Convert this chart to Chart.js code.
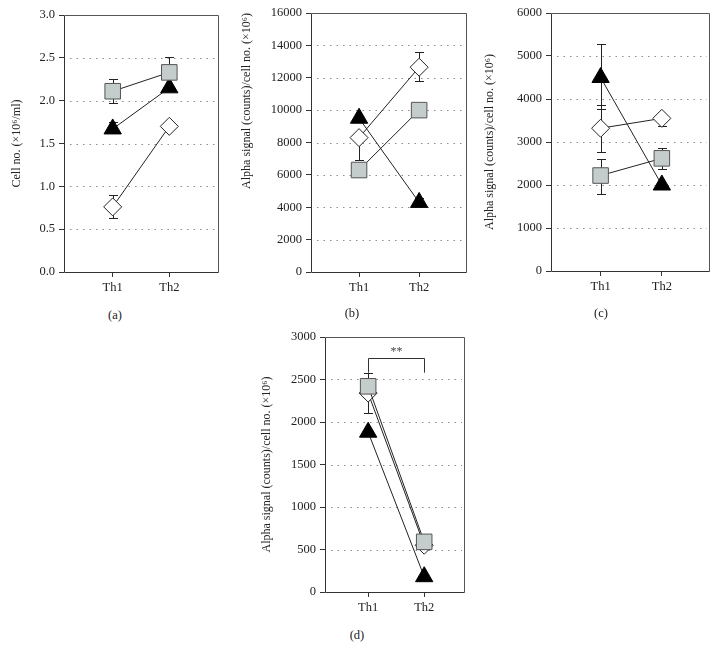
<!DOCTYPE html>
<html>
<head>
<meta charset="utf-8">
<script src="https://cdn.jsdelivr.net/npm/chart.js"></script>
<style>
  body { margin: 0; background: #fff; }
  #wrap { position: relative; width: 721px; height: 661px; background: #fff; }
  canvas { position: absolute; }
  .tag { position: absolute; font: 12.5px 'Liberation Serif', serif; color: #222; transform: translate(-50%, -50%); }
</style>
</head>
<body>
<div id="wrap">
  <canvas id="ca" style="left:0;top:0" width="230" height="300"></canvas>
  <canvas id="cb" style="left:240px;top:0" width="240" height="300"></canvas>
  <canvas id="cc" style="left:480px;top:0" width="241" height="300"></canvas>
  <canvas id="cd" style="left:240px;top:320px" width="240" height="300"></canvas>
  <div class="tag" style="left:115px;top:315px">(a)</div>
  <div class="tag" style="left:352px;top:313px">(b)</div>
  <div class="tag" style="left:601px;top:313px">(c)</div>
  <div class="tag" style="left:357px;top:635px">(d)</div>
</div>
<script>
// data
const CATEGORIES = ['Th1', 'Th2'];

// (a) cell number
const A_SQUARE = [2.11, 2.33];
const A_SQUARE_UP = [0.14, 0.18];
const A_SQUARE_DN = [0.14, 0];
const A_TRIANGLE = [1.67, 2.15];
const A_TRIANGLE_UP = [0.08, 0];
const A_DIAMOND = [0.76, 1.70];
const A_DIAMOND_UP = [0.14, 0];
const A_DIAMOND_DN = [0.13, 0];

// (b)
const B_SQUARE = [6300, 10000];
const B_TRIANGLE = [9500, 4300];
const B_TRIANGLE_UP = [0, 300];
const B_DIAMOND = [8300, 12650];
const B_DIAMOND_UP = [0, 950];
const B_DIAMOND_DN = [1400, 850];

// (c)
const C_SQUARE = [2220, 2620];
const C_SQUARE_UP = [380, 250];
const C_SQUARE_DN = [420, 240];
const C_TRIANGLE = [4500, 2000];
const C_TRIANGLE_UP = [780, 0];
const C_TRIANGLE_DN = [740, 0];
const C_DIAMOND = [3320, 3550];
const C_DIAMOND_UP = [550, 0];
const C_DIAMOND_DN = [550, 170];

// (d)
const D_SQUARE = [2420, 590];
const D_SQUARE_UP = [160, 0];
const D_TRIANGLE = [1880, 180];
const D_DIAMOND = [2340, 550];
const D_DIAMOND_DN = [230, 0];
const D_BRACKET = [2750, 2580]; // bar level, leg ends
const D_BRACKET_LABEL = '**';

const Y_TITLE_A = 'Cell no. (×10⁶/ml)';
const Y_TITLE = 'Alpha signal (counts)/cell no. (×10⁶)';

const FONT = "'Liberation Serif', 'Times New Roman', serif";
const INK = '#222';

const toPoints = vals => vals.map((v, i) => ({ x: i + 1, y: v }));

function square(vals, up, dn) {
  return {
    data: toPoints(vals), errUp: up, errDown: dn,
    pointStyle: 'rect', pointRadius: 11, pointHoverRadius: 11,
    pointBackgroundColor: '#c4cccc', pointBorderColor: '#555', pointBorderWidth: 1
  };
}
function triangle(vals, up, dn) {
  return {
    data: toPoints(vals), errUp: up, errDown: dn,
    pointStyle: 'triangle', pointRadius: 10, pointHoverRadius: 10,
    pointBackgroundColor: '#000', pointBorderColor: '#000', pointBorderWidth: 1
  };
}
function diamond(vals, up, dn) {
  return {
    data: toPoints(vals), errUp: up, errDown: dn,
    pointStyle: 'rectRot', pointRadius: 9, pointHoverRadius: 9,
    pointBackgroundColor: '#fff', pointBorderColor: '#222', pointBorderWidth: 1
  };
}

// dotted grid, plot box, error bars and the significance bracket
const framePlugin = {
  id: 'frame',
  beforeDatasetsDraw(chart) {
    const { ctx, chartArea: a, scales: { x, y } } = chart;
    ctx.save();
    ctx.lineWidth = 1;
    ctx.strokeStyle = '#8c8c8c';
    ctx.setLineDash([1.5, 5]);
    y.ticks.forEach(t => {
      if (t.value === y.min || t.value === y.max) return;
      const py = Math.round(y.getPixelForValue(t.value)) + 0.5;
      ctx.beginPath();
      ctx.moveTo(a.left + 6, py);
      ctx.lineTo(a.right - 2, py);
      ctx.stroke();
    });
    ctx.setLineDash([]);

    // box
    const l = Math.round(a.left) + 0.5, r = Math.round(a.right) + 0.5;
    const t = Math.round(a.top) + 0.5, b = Math.round(a.bottom) + 0.5;
    ctx.strokeStyle = '#555';
    ctx.beginPath();
    ctx.moveTo(l, t); ctx.lineTo(r, t); ctx.lineTo(r, b);
    ctx.stroke();
    ctx.strokeStyle = '#333';
    ctx.beginPath();
    ctx.moveTo(l, t); ctx.lineTo(l, b); ctx.lineTo(r, b);
    ctx.stroke();

    // error bars
    ctx.strokeStyle = INK;
    chart.data.datasets.forEach(ds => {
      ds.data.forEach((p, i) => {
        const px = Math.round(x.getPixelForValue(p.x)) + 0.5;
        const py0 = y.getPixelForValue(p.y);
        [[ds.errUp, 1], [ds.errDown, -1]].forEach(([err, s]) => {
          if (!err || !err[i]) return;
          const py1 = Math.round(y.getPixelForValue(p.y + s * err[i])) + 0.5;
          ctx.beginPath();
          ctx.moveTo(px, py0); ctx.lineTo(px, py1);
          ctx.moveTo(px - 4.5, py1); ctx.lineTo(px + 4.5, py1);
          ctx.stroke();
        });
      });
    });

    const br = chart.options.plugins.frame.bracket;
    if (br) {
      const x1 = Math.round(x.getPixelForValue(1)) + 0.5;
      const x2 = Math.round(x.getPixelForValue(2)) + 0.5;
      const yb = Math.round(y.getPixelForValue(br.level)) + 0.5;
      const yl = y.getPixelForValue(br.leg);
      ctx.strokeStyle = '#333';
      ctx.beginPath();
      ctx.moveTo(x1, yl); ctx.lineTo(x1, yb); ctx.lineTo(x2, yb); ctx.lineTo(x2, yl);
      ctx.stroke();
      ctx.fillStyle = '#444';
      ctx.font = '12px ' + FONT;
      ctx.textAlign = 'center';
      ctx.textBaseline = 'bottom';
      ctx.fillText(br.label, (x1 + x2) / 2, yb - 1);
    }
    ctx.restore();
  }
};

function makePanel(id, cfg) {
  const ctx = document.getElementById(id).getContext('2d');
  return new Chart(ctx, {
    type: 'scatter',
    data: {
      datasets: cfg.datasets.map(d => Object.assign({
        showLine: true, borderColor: INK, borderWidth: 1, fill: false
      }, d))
    },
    options: {
      responsive: false,
      animation: false,
      events: [],
      layout: { padding: { left: 0, top: cfg.top, right: cfg.right, bottom: 0 } },
      plugins: {
        legend: { display: false },
        tooltip: { enabled: false },
        frame: { bracket: cfg.bracket || null }
      },
      scales: {
        x: {
          type: 'linear', min: cfg.xMin, max: cfg.xMax,
          afterBuildTicks: s => { s.ticks = CATEGORIES.map((c, i) => ({ value: i + 1 })); },
          afterFit: s => { s.height = cfg.xHeight; },
          grid: { drawOnChartArea: false, drawTicks: true, tickLength: 5, color: '#333' },
          border: { display: false },
          ticks: {
            padding: 3, color: INK, font: { family: FONT, size: 12.5 },
            callback: v => CATEGORIES[v - 1]
          }
        },
        y: {
          min: 0, max: cfg.yMax,
          afterFit: s => { s.width = cfg.yWidth; },
          grid: { drawOnChartArea: false, drawTicks: true, tickLength: 5, color: '#333' },
          border: { display: false },
          ticks: {
            stepSize: cfg.yStep, padding: 4, color: INK,
            font: { family: FONT, size: 12.5 },
            callback: cfg.yFormat || (v => String(v))
          },
          title: {
            display: true, text: cfg.yTitle, color: INK, align: cfg.titleAlign || 'center',
            font: { family: FONT, size: 12 },
            padding: { top: cfg.titlePad, bottom: 0 }
          }
        }
      }
    },
    plugins: [framePlugin]
  });
}

makePanel('ca', {
  datasets: [square(A_SQUARE, A_SQUARE_UP, A_SQUARE_DN), triangle(A_TRIANGLE, A_TRIANGLE_UP), diamond(A_DIAMOND, A_DIAMOND_UP, A_DIAMOND_DN)],
  yMax: 3, yStep: 0.5, yFormat: v => v.toFixed(1), yTitle: Y_TITLE_A,
  xMin: 0.14, xMax: 2.86, top: 15, right: 11, yWidth: 64, xHeight: 28, titlePad: 10
});

makePanel('cb', {
  datasets: [square(B_SQUARE), triangle(B_TRIANGLE, B_TRIANGLE_UP), diamond(B_DIAMOND, B_DIAMOND_UP, B_DIAMOND_DN)],
  yMax: 16000, yStep: 2000, yTitle: Y_TITLE, titleAlign: 'end',
  xMin: 0.2, xMax: 2.78, top: 13, right: 14, yWidth: 71, xHeight: 28, titlePad: 0
});

makePanel('cc', {
  datasets: [square(C_SQUARE, C_SQUARE_UP, C_SQUARE_DN), triangle(C_TRIANGLE, C_TRIANGLE_UP, C_TRIANGLE_DN), diamond(C_DIAMOND, C_DIAMOND_UP, C_DIAMOND_DN)],
  yMax: 6000, yStep: 1000, yTitle: Y_TITLE,
  xMin: 0.19, xMax: 2.77, top: 13, right: 10, yWidth: 71, xHeight: 29, titlePad: 3
});

makePanel('cd', {
  datasets: [square(D_SQUARE, D_SQUARE_UP), triangle(D_TRIANGLE), diamond(D_DIAMOND, null, D_DIAMOND_DN)],
  yMax: 3000, yStep: 500, yTitle: Y_TITLE,
  xMin: 0.23, xMax: 2.71, top: 17, right: 16, yWidth: 85, xHeight: 28, titlePad: 20,
  bracket: { level: D_BRACKET[0], leg: D_BRACKET[1], label: D_BRACKET_LABEL }
});
</script>
</body>
</html>
